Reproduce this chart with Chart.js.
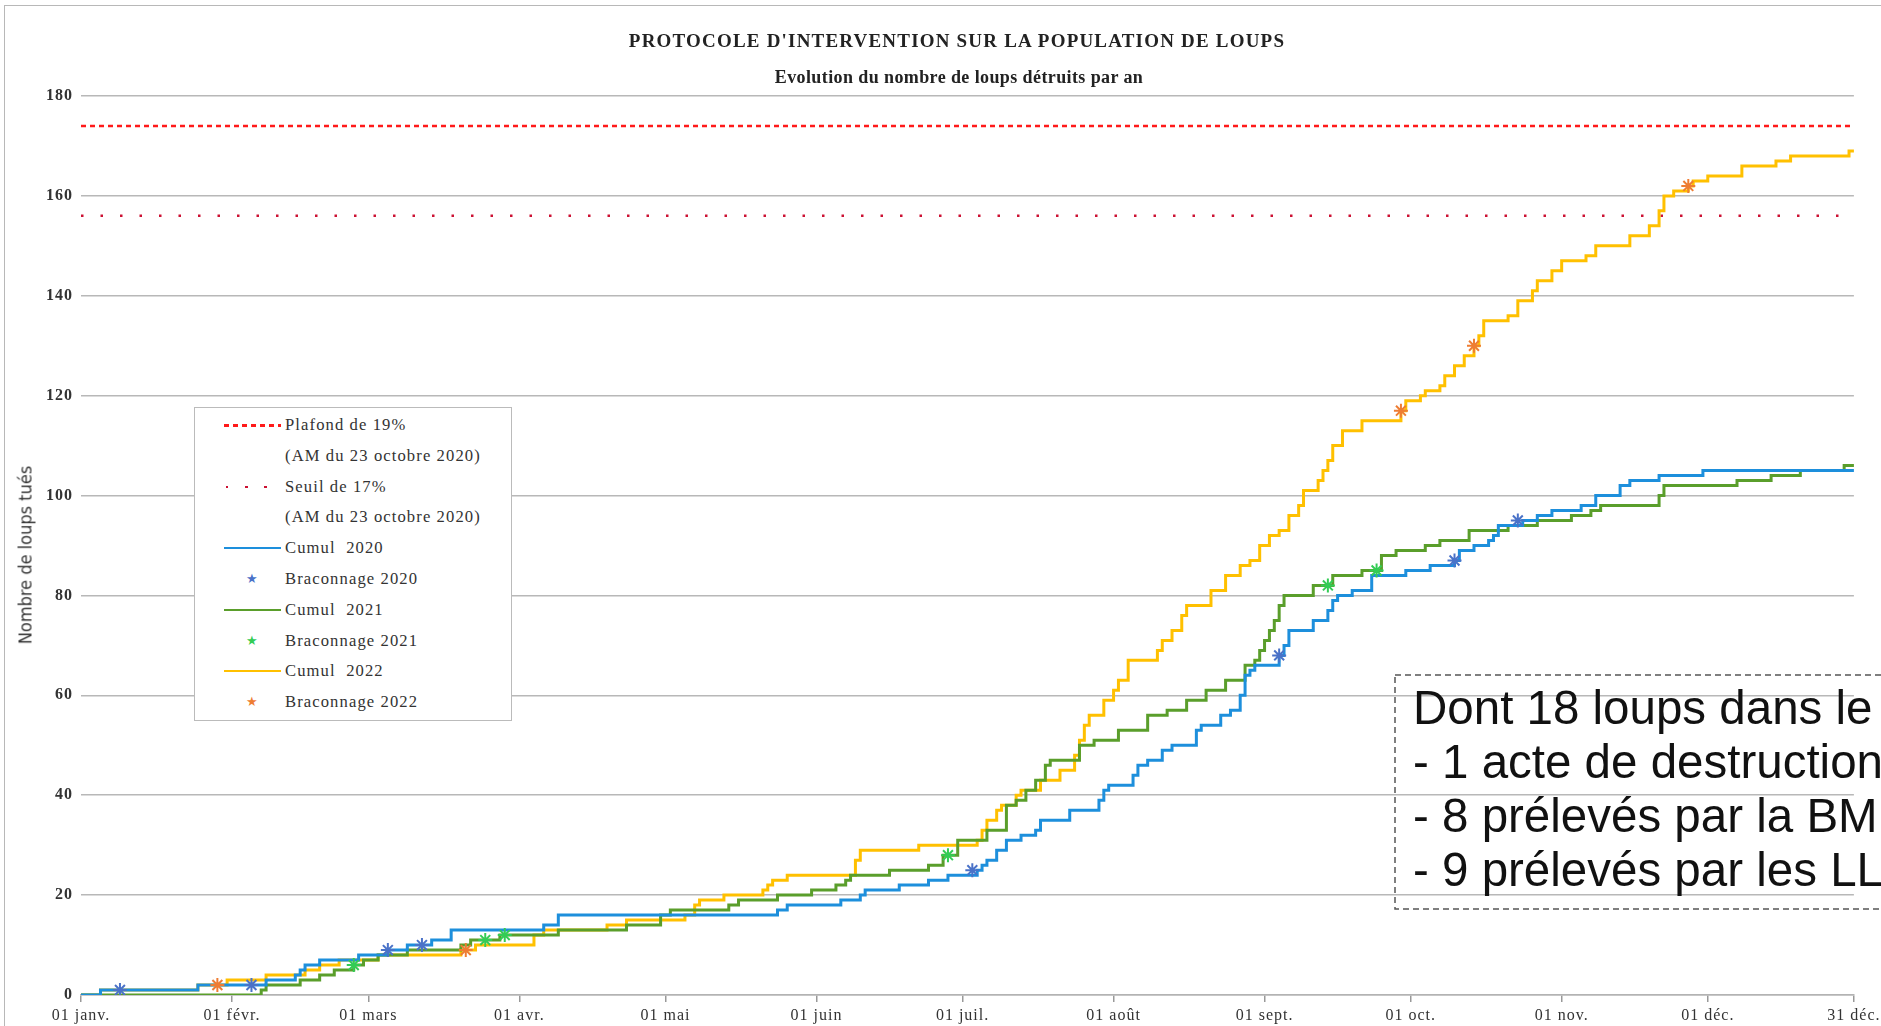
<!DOCTYPE html>
<html lang="fr">
<head>
<meta charset="utf-8">
<title>Protocole d'intervention sur la population de loups</title>
<script src="https://cdn.jsdelivr.net/npm/chart.js@4.4.1/dist/chart.umd.min.js"></script>
<style>
    html, body { margin: 0; padding: 0; background: #fff; overflow: hidden; }
    #page { position: relative; width: 1881px; height: 1026px; overflow: hidden; }
    #frame { position: absolute; left: 4px; top: 5px; right: -10px; bottom: -10px; border-left: 1.5px solid #b8b8b8; border-top: 1.5px solid #b8b8b8; }
    canvas { position: absolute; left: 0; top: 0; }
    .title { position: absolute; transform: translate(-50%, -50%); white-space: nowrap; color: #222; font-family: "Liberation Serif", serif; font-weight: bold; }
    #title { left: 957px; top: 41px; font-size: 19px; letter-spacing: 1.2px; }
    #subtitle { left: 959px; top: 77px; font-size: 18px; letter-spacing: 0.4px; }
    #ytitle { position: absolute; left: 25px; top: 555px; transform: translate(-50%, -50%) rotate(-90deg); white-space: nowrap;
        font-family: "Liberation Sans Narrow", "DejaVu Sans Condensed", sans-serif; font-stretch: condensed; font-size: 18px; color: #333; }
    #legend { position: absolute; left: 194px; top: 407px; width: 316px; height: 312px; border: 1.5px solid #bbb; background: #fff;
        font-family: "Liberation Serif", serif; font-size: 16.6px; letter-spacing: 1.1px; color: #333; }
    .row { position: absolute; left: 0; height: 30px; width: 100%; }
    .row .txt { position: absolute; left: 90px; top: 50%; transform: translateY(-50%); white-space: nowrap; }
    .row .sample { position: absolute; left: 29px; width: 57px; top: 50%; }
    #note { position: absolute; left: 1394px; top: 674px; width: 700px; height: 236px;
        font-family: "Liberation Sans", Arial, sans-serif; font-size: 47.5px; line-height: 54px; color: #111; padding: 7px 0 0 19px; box-sizing: border-box; white-space: nowrap; }
    #note svg { position: absolute; left: 0; top: 0; }
</style>
</head>
<body>
<div id="page">
    <div id="frame"></div>
    <canvas id="chart" width="1881" height="1026"></canvas>
    <div id="title" class="title">PROTOCOLE D'INTERVENTION SUR LA POPULATION DE LOUPS</div>
    <div id="subtitle" class="title">Evolution du nombre de loups détruits par an</div>
    <div id="ytitle">Nombre de loups tués</div>
    <div id="legend"></div>
    <div id="note"></div>
</div>
<script>
// Axis ticks (day of year)
const monthDays = [0, 31, 59, 90, 120, 151, 181, 212, 243, 273, 304, 334, 364];
const monthLabels = ['01 janv.', '01 févr.', '01 mars', '01 avr.', '01 mai', '01 juin', '01 juil.',
    '01 août', '01 sept.', '01 oct.', '01 nov.', '01 déc.', '31 déc.'];

// Thresholds
const plafond = 174;
const seuil = 156;

// Cumul 2020 : day of change -> new total
const days2020 = [0, 4, 24, 38, 44, 45, 46, 49, 57, 63, 67, 72, 76, 95, 98, 143, 145, 156, 160, 161,
    168, 174, 178, 184, 185, 186, 188, 190, 193, 196, 197, 203, 209, 210, 211, 216, 217, 219, 222, 224,
    229, 230, 234, 236, 238, 239, 240, 241, 246, 247, 248, 253, 256, 257, 258, 261, 265, 272, 277, 282,
    283, 286, 289, 290, 291, 296, 299, 302, 308, 311, 316, 318, 324, 333, 364];
const cumul2020 = [0, 1, 2, 3, 4, 5, 6, 7, 8, 9, 10, 11, 13, 14, 16, 17, 18, 19, 20, 21,
    22, 23, 24, 25, 26, 27, 29, 31, 32, 33, 35, 37, 39, 41, 42, 44, 46, 47, 49, 50,
    53, 54, 56, 57, 60, 64, 65, 66, 68, 70, 73, 75, 77, 79, 80, 81, 84, 85, 86, 87,
    89, 90, 91, 92, 94, 95, 96, 97, 98, 100, 102, 103, 104, 105, 105];

// Cumul 2021
const days2021 = [0, 37, 38, 45, 49, 52, 56, 58, 61, 67, 78, 80, 86, 98, 112, 119, 121, 133, 135, 143,
    150, 155, 157, 158, 166, 174, 177, 180, 186, 190, 192, 194, 196, 198, 199, 205, 208, 213, 219, 223,
    227, 231, 235, 239, 241, 242, 243, 244, 245, 246, 247, 253, 257, 263, 267, 270, 276, 279, 285, 293,
    299, 306, 310, 312, 324, 325, 340, 347, 353, 362, 364];
const cumul2021 = [0, 1, 2, 3, 4, 5, 6, 7, 8, 9, 10, 11, 12, 13, 14, 16, 17, 18, 19, 20,
    21, 22, 23, 24, 25, 26, 28, 31, 33, 38, 39, 41, 43, 46, 47, 50, 51, 53, 56, 57,
    59, 61, 63, 66, 67, 69, 71, 73, 75, 78, 80, 82, 84, 85, 88, 89, 90, 91, 93, 94,
    95, 96, 97, 98, 100, 102, 103, 104, 105, 106, 106];

// Cumul 2022
const days2022 = [0, 4, 24, 30, 38, 46, 49, 53, 61, 78, 81, 93, 95, 108, 112, 124, 126, 127, 132, 140,
    141, 142, 145, 159, 160, 172, 184, 185, 186, 188, 189, 192, 193, 197, 201, 204, 205, 206, 207, 210,
    212, 213, 215, 221, 222, 224, 226, 227, 232, 235, 238, 240, 242, 244, 246, 248, 250, 251, 254, 255,
    256, 257, 259, 263, 271, 272, 275, 276, 279, 280, 282, 284, 286, 287, 288, 293, 295, 298, 299, 302,
    304, 309, 311, 318, 322, 324, 325, 327, 330, 331, 334, 341, 348, 351, 363, 364];
const cumul2022 = [0, 1, 2, 3, 4, 5, 6, 7, 8, 9, 10, 12, 13, 14, 15, 16, 18, 19, 20, 21,
    22, 23, 24, 27, 29, 30, 31, 33, 35, 37, 38, 40, 41, 43, 45, 48, 51, 54, 56, 59,
    61, 63, 67, 69, 71, 73, 76, 78, 81, 84, 86, 87, 90, 92, 93, 96, 98, 101, 103, 105,
    107, 110, 113, 115, 117, 119, 120, 121, 122, 124, 126, 128, 130, 132, 135, 136, 139, 141, 143, 145,
    147, 148, 150, 152, 154, 157, 160, 161, 162, 163, 164, 166, 167, 168, 169, 169];

// Braconnage (poaching) markers
const bracDays2020 = [8, 35, 63, 70, 183, 246, 282, 295];
const bracVals2020 = [1, 2, 9, 10, 25, 68, 87, 95];
const bracDays2021 = [56, 83, 87, 178, 256, 266];
const bracVals2021 = [6, 11, 12, 28, 82, 85];
const bracDays2022 = [28, 79, 271, 286, 330];
const bracVals2022 = [2, 9, 117, 130, 162];

// Note box
const noteLines = ['Dont 18 loups dans le', '- 1 acte de destruction', '- 8 prélevés par la BM', '- 9 prélevés par les LL'];

const colors = {
    plafond: '#ff1a1a',
    seuil: '#cc1133',
    c2020: '#1d8fdc',
    c2021: '#5a9e2b',
    c2022: '#ffc000',
    b2020: '#4a72c8',
    b2021: '#33cc55',
    b2022: '#ee7d33'
};

function points(days, vals) {
    return days.map((d, i) => ({ x: d, y: vals[i] }));
}

function cumulDataset(label, days, vals, color) {
    return {
        label: label,
        data: points(days, vals),
        borderColor: color,
        borderWidth: 3,
        stepped: true,
        pointRadius: 0,
        fill: false,
        order: 2
    };
}

function bracDataset(label, days, vals, color) {
    return {
        label: label,
        data: points(days, vals),
        showLine: false,
        pointStyle: 'star',
        pointRadius: 7,
        borderColor: color,
        backgroundColor: color,
        pointBorderWidth: 2,
        order: 1
    };
}

const datasets = [
    {
        label: 'Plafond de 19%',
        data: [{ x: 0, y: plafond }, { x: 364, y: plafond }],
        borderColor: colors.plafond,
        borderWidth: 2.5,
        borderDash: [5, 4],
        pointRadius: 0,
        order: 5
    },
    {
        label: 'Seuil de 17%',
        data: [{ x: 0, y: seuil }, { x: 364, y: seuil }],
        borderColor: colors.seuil,
        borderWidth: 2.5,
        borderDash: [2.5, 17],
        pointRadius: 0,
        order: 5
    },
    cumulDataset('Cumul  2020', days2020, cumul2020, colors.c2020),
    bracDataset('Braconnage 2020', bracDays2020, bracVals2020, colors.b2020),
    cumulDataset('Cumul  2021', days2021, cumul2021, colors.c2021),
    bracDataset('Braconnage 2021', bracDays2021, bracVals2021, colors.b2021),
    cumulDataset('Cumul  2022', days2022, cumul2022, colors.c2022),
    bracDataset('Braconnage 2022', bracDays2022, bracVals2022, colors.b2022)
];

// letter spacing for tick labels (serif font of the original looks spaced)
const spacingPlugin = {
    id: 'spacing',
    beforeDraw(chart) {
        chart.ctx.letterSpacing = '1px';
    }
};

const ctx = document.getElementById('chart').getContext('2d');
const chart = new Chart(ctx, {
    type: 'line',
    data: { datasets: datasets },
    plugins: [spacingPlugin],
    options: {
        responsive: false,
        animation: false,
        layout: { padding: { top: 96, right: 27, left: 0, bottom: 0 } },
        plugins: {
            legend: { display: false },
            tooltip: { enabled: false }
        },
        scales: {
            x: {
                type: 'linear',
                min: 0,
                max: 364,
                afterBuildTicks: axis => {
                    axis.ticks = monthDays.map(d => ({ value: d }));
                },
                afterFit: axis => { axis.height = 31; },
                ticks: {
                    autoSkip: false,
                    maxRotation: 0,
                    padding: 4,
                    color: '#333',
                    font: { family: 'Liberation Serif', size: 16 },
                    callback: value => monthLabels[monthDays.indexOf(value)]
                },
                grid: { drawOnChartArea: false, tickLength: 7, color: '#999', lineWidth: 1.5 },
                border: { color: '#b3b3b3', width: 1.5 }
            },
            y: {
                min: 0,
                max: 180,
                afterFit: axis => { axis.width = 81; },
                ticks: {
                    stepSize: 20,
                    padding: 8,
                    color: '#333',
                    font: { family: 'Liberation Serif', size: 16, weight: 'bold' }
                },
                grid: { color: '#b8b8b8', lineWidth: 1.5, drawTicks: false },
                border: { display: false }
            }
        }
    }
});

// Legend (HTML, two-line labels for the thresholds)
const legendRows = [
    { text: 'Plafond de 19%', kind: 'dash', color: colors.plafond },
    { text: '(AM du 23 octobre 2020)', kind: 'none' },
    { text: 'Seuil de 17%', kind: 'dots', color: colors.seuil },
    { text: '(AM du 23 octobre 2020)', kind: 'none' },
    { text: 'Cumul  2020', kind: 'line', color: colors.c2020 },
    { text: 'Braconnage 2020', kind: 'star', color: colors.b2020 },
    { text: 'Cumul  2021', kind: 'line', color: colors.c2021 },
    { text: 'Braconnage 2021', kind: 'star', color: colors.b2021 },
    { text: 'Cumul  2022', kind: 'line', color: colors.c2022 },
    { text: 'Braconnage 2022', kind: 'star', color: colors.b2022 }
];

const legend = document.getElementById('legend');
legendRows.forEach((r, i) => {
    const row = document.createElement('div');
    row.className = 'row';
    row.style.top = (2 + i * 30.8) + 'px';
    let sample = '';
    if (r.kind === 'line') {
        sample = `<div class="sample" style="border-top:2.8px solid ${r.color};margin-top:-1px"></div>`;
    } else if (r.kind === 'dash') {
        sample = `<div class="sample" style="height:2.5px;margin-top:-1px;background:repeating-linear-gradient(90deg, ${r.color} 0 5px, transparent 5px 9px)"></div>`;
    } else if (r.kind === 'dots') {
        sample = `<div class="sample" style="left:31px;height:2.5px;margin-top:-1px;background:repeating-linear-gradient(90deg, ${r.color} 0 2.5px, transparent 2.5px 19px)"></div>`;
    } else if (r.kind === 'star') {
        sample = `<div style="position:absolute;left:51px;top:50%;transform:translateY(-50%);color:${r.color};font-size:13px;letter-spacing:0">★</div>`;
    }
    row.innerHTML = sample + `<div class="txt">${r.text.replace(/  /g, ' &nbsp;')}</div>`;
    legend.appendChild(row);
});

// Note box with long-dash border
const note = document.getElementById('note');
note.innerHTML = `<svg width="700" height="236"><rect x="1" y="1" width="720" height="234" fill="none" stroke="#555" stroke-width="1.5" stroke-dasharray="6 4"/></svg>`
    + noteLines.map(l => `<div style="position:relative">${l}</div>`).join('');
</script>
</body>
</html>
